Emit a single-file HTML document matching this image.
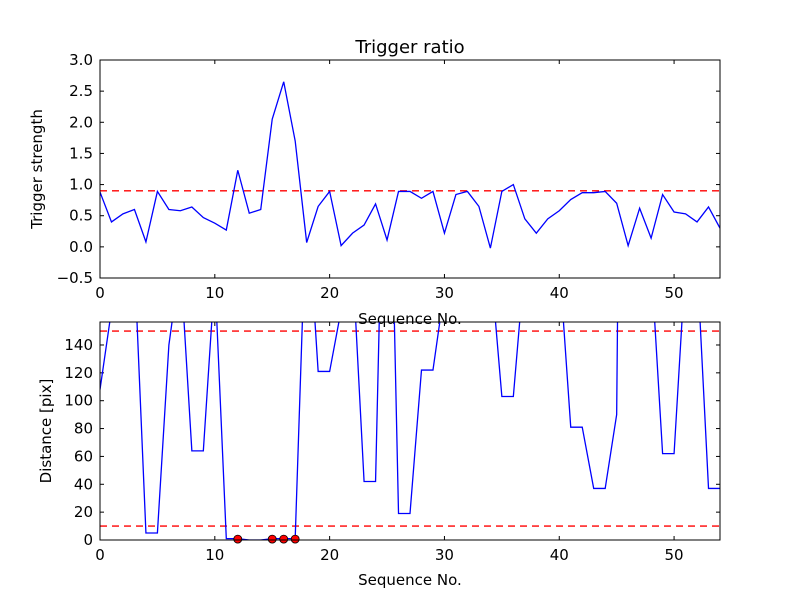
<!DOCTYPE html>
<html><head><meta charset="utf-8"><style>
body{margin:0;background:#fff;}
svg text{font-family:"DejaVu Sans","Liberation Sans",sans-serif;font-size:15px;fill:#000;}
</style></head><body>
<svg id="fig" width="800" height="600" xmlns="http://www.w3.org/2000/svg">
<defs>
<clipPath id="c1"><rect x="100" y="60" width="620" height="218"/></clipPath>
<clipPath id="c2"><rect x="100" y="322" width="620" height="218"/></clipPath>
</defs>
<rect width="800" height="600" fill="#fff"/>
<text x="410" y="53" text-anchor="middle" style="font-size:18px">Trigger ratio</text>
<text x="410" y="324" text-anchor="middle">Sequence No.</text>
<text x="410" y="585" text-anchor="middle">Sequence No.</text>
<text transform="translate(42,169) rotate(-90)" text-anchor="middle">Trigger strength</text>
<text transform="translate(51,431) rotate(-90)" text-anchor="middle">Distance [pix]</text>
<g id="g1"></g>
<g id="g2"></g>
</svg>
<script>
const strength = [0.88,0.4,0.53,0.6,0.08,0.89,0.6,0.58,0.64,0.47,0.38,0.27,1.23,0.54,0.6,2.05,2.65,1.7,0.07,0.65,0.89,0.02,0.22,0.35,0.69,0.11,0.89,0.89,0.78,0.89,0.22,0.84,0.89,0.65,-0.02,0.89,1.0,0.45,0.22,0.45,0.58,0.76,0.87,0.87,0.89,0.7,0.02,0.62,0.14,0.84,0.56,0.53,0.4,0.64,0.3];
const strengthThreshold = [0.9];
const distance = [108,165,200,200,5,5,140,200,64,64,190,1,1,0,0,1,1,1,250,121,121,165,200,42,42,400,19,19,122,122,180,200,200,200,200,103,103,200,200,200,200,81,81,37,37,90,1000,200,200,62,62,200,200,37,37];
const distanceThresholds = [150,10];
const markerIdx = [12,15,16,17];
const xTicks = [0,10,20,30,40,50];
const yTicks1 = ["-0.5","0.0","0.5","1.0","1.5","2.0","2.5","3.0"];
const yTicks2 = ["0","20","40","60","80","100","120","140"];

const NS="http://www.w3.org/2000/svg";
function mk(parent,tag,attrs){const e=document.createElementNS(NS,tag);for(const k in attrs)e.setAttribute(k,attrs[k]);parent.appendChild(e);return e;}
const X0=100,X1=720,XMAX=54;
const xs=v=>X0+v/XMAX*(X1-X0);
function axes(g,top,bot,ymin,ymax,yt){
  const ys=v=>bot-(v-ymin)/(ymax-ymin)*(bot-top);
  xTicks.forEach(t=>{
    const x=xs(t);
    const l1=mk(g,'line',{x1:x,x2:x,y1:bot,y2:bot-4,stroke:'#000'});
    
    
    mk(g,'line',{x1:x,x2:x,y1:top,y2:top+4,stroke:'#000'});
    const tx=mk(g,'text',{x:x,y:bot+20,'text-anchor':'middle'});tx.textContent=t;
    
    
  });
  yt.forEach(s=>{
    const y=ys(parseFloat(s));
    const l=mk(g,'line',{x1:X0,x2:X0+4,y1:y,y2:y,stroke:'#000'});
    
    
    mk(g,'line',{x1:X1,x2:X1-4,y1:y,y2:y,stroke:'#000'});
    const tx=mk(g,'text',{x:X0-7,y:y+5,'text-anchor':'end'});tx.textContent=s.replace('-','\u2212');
    
    
  });
  return ys;
}
function series(g,data,ys,clip){
  return mk(g,'polyline',{points:data.map((v,i)=>xs(i)+','+ys(v)).join(' '),fill:'none',stroke:'#0000ff','stroke-width':1.3,'clip-path':'url(#'+clip+')'});
}
function hline(g,v,ys,clip){
  return mk(g,'line',{x1:X0,x2:X1,y1:ys(v),y2:ys(v),stroke:'#ff0000','stroke-width':1.3,'stroke-dasharray':'7,5','clip-path':'url(#'+clip+')'});
}
const g1=document.getElementById('g1');
const ys1=axes(g1,60,278,-0.5,3.0,yTicks1);
strengthThreshold.forEach(v=>{const l=hline(g1,v,ys1,'c1');

});
const s1=series(g1,strength,ys1,'c1');


const f1=mk(g1,'rect',{x:X0,y:60,width:X1-X0,height:218,fill:'none',stroke:'#000'});


const g2=document.getElementById('g2');
const ys2=axes(g2,322,540,0,156.5,yTicks2);
distanceThresholds.forEach(v=>{const l=hline(g2,v,ys2,'c2');

});
const s2=series(g2,distance,ys2,'c2');


markerIdx.forEach(i=>{
  const c=mk(g2,'circle',{cx:xs(i),cy:ys2(distance[i])+0.5,r:4,fill:'#ff0000',stroke:'#000','stroke-width':0.8});
  
  
});
const f2=mk(g2,'rect',{x:X0,y:322,width:X1-X0,height:218,fill:'none',stroke:'#000'});


</script>
</body></html>
